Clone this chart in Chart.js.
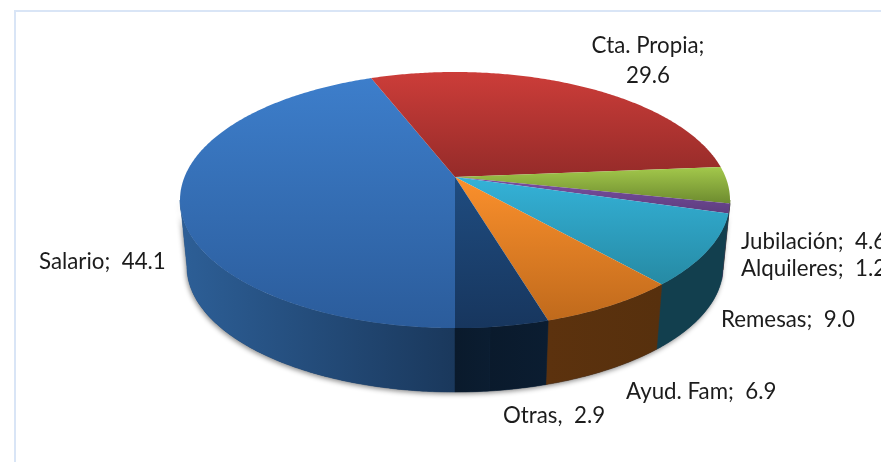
<!DOCTYPE html>
<html><head><meta charset="utf-8">
<style>html,body{margin:0;padding:0;background:#fff}canvas{display:block}</style>
<script src="https://cdn.jsdelivr.net/npm/chart.js@4"></script>
</head><body><canvas id="c" width="881" height="462"></canvas>
<script>
// Printed values, clockwise from the front of the pie. The printed figures add up to 98.3;
// the drawn navy wedge is wider than its "2.9" label, so the remaining 1.7 is an unlabelled slice of the same colour.
const categories = ['Salario','Cta. Propia','Jubilación','Alquileres','Remesas','Ayud. Fam','Otras',''];
const values = [44.1,29.6,4.6,1.2,9.0,6.9,2.9,1.7];
const labelLines = [['Salario;  44.1'],['Cta. Propia;','29.6'],['Jubilación;  4.6'],['Alquileres;  1.2'],['Remesas;  9.0'],['Ayud. Fam;  6.9'],['Otras,  2.9'],[]];
const labelAnchors = [[39,262,'left'],[648,46,'center'],[741,242,'left'],[741,269,'left'],[721,320,'left'],[626,392,'left'],[503,416,'left'],null];
const topColors = [['#3d7ecb','#2b5c9b'],['#cc3d39','#952b29'],['#a3c84b','#6d8b2f'],['#7c50a3','#5d3d7e'],['#34b2d8','#268aa4'],['#fb902c','#c06a1c'],['#1f4c80','#17365e'],['#1f4c80','#17365e']];
const wallColors = [['#2d5f97','#1a385c'],['#6e2020','#6e2020'],['#55701f','#55701f'],['#3f2a58','#3f2a58'],['#123f4e','#123f4e'],['#5c320e','#57300d'],['#0a1a2c','#0b1d31'],['#0a1a2c','#0b1d31']];

// Perspective of the pie disc
const CX=455, TOP={cy:177,R:270.5,b:123.9}, BOT={cy:244,R:263.7,b:121.4}, K=0.18;
const SIL=Math.acos(-K); // angle at which the rim turns from front to back
function pt(th,f,r=1){const u=r*Math.sin(th),v=-r*Math.cos(th),w=1/(1-K*v);return [CX+f.R*u*w,f.cy+f.b*v*w];}
function arcPts(a,b,f){const n=Math.max(2,Math.ceil(Math.abs(b-a)/0.01)),o=[];for(let i=0;i<=n;i++)o.push(pt(a+(b-a)*i/n,f));return o;}
function tracePts(ctx,p){ctx.beginPath();p.forEach((q,i)=>i?ctx.lineTo(q[0],q[1]):ctx.moveTo(q[0],q[1]));ctx.closePath();}
function wallPts(a,b){return arcPts(a,b,TOP).concat(arcPts(a,b,BOT).reverse());}

const pie3d={id:'pie3d',
 beforeDraw(chart){const c=chart.ctx;c.save();c.fillStyle='#d9e5f6';c.fillRect(14,10,867,2);c.fillRect(14,10,2,452);c.restore();},
 beforeDatasetsDraw(chart){
  const ctx=chart.ctx,arcs=chart.getDatasetMeta(0).data;
  ctx.save();
  ctx.save();ctx.shadowColor='rgba(0,0,0,0.45)';ctx.shadowBlur=5;ctx.shadowOffsetX=-1;ctx.shadowOffsetY=2;ctx.fillStyle='#1a385c';
  tracePts(ctx,wallPts(SIL,2*Math.PI-SIL));ctx.fill();ctx.restore();
  // rim walls
  arcs.forEach((el,i)=>{
   const s=el.startAngle+Math.PI/2,e=el.endAngle+Math.PI/2;
   [0,2*Math.PI].forEach(sh=>{
    const a=Math.max(s,SIL+sh),b=Math.min(e,2*Math.PI-SIL+sh);
    if(b<=a)return;
    const p=wallPts(a,b),xs=p.map(q=>q[0]);
    const g=ctx.createLinearGradient(Math.min(...xs),0,Math.max(...xs),0);
    g.addColorStop(0,wallColors[i][0]);g.addColorStop(1,wallColors[i][1]);
    tracePts(ctx,p);ctx.fillStyle=g;ctx.strokeStyle=g;ctx.lineWidth=0.5;ctx.fill();ctx.stroke();
   });
  });
  // top face: slices of one colour share one gradient span and overlap, so no seam shows
  const spans={};
  const slicePts=arcs.map((el,i)=>{
   const same=arcs[i+1]&&topColors[i+1][0]===topColors[i][0];
   const end=same?arcs[i+1].endAngle:el.endAngle;
   return [[CX,TOP.cy]].concat(arcPts(el.startAngle+Math.PI/2,end+Math.PI/2,TOP));
  });
  slicePts.forEach((p,i)=>{const k=topColors[i][0],ys=p.map(q=>q[1]),sp=spans[k]||(spans[k]=[1e9,-1e9]);sp[0]=Math.min(sp[0],...ys);sp[1]=Math.max(sp[1],...ys);});
  slicePts.forEach((p,i)=>{
   const sp=spans[topColors[i][0]],g=ctx.createLinearGradient(0,sp[0],0,sp[1]);
   g.addColorStop(0,topColors[i][0]);g.addColorStop(1,topColors[i][1]);
   tracePts(ctx,p);ctx.fillStyle=g;ctx.fill();
  });
  ctx.restore();
  return false;
 },
 afterDraw(chart){
  const ctx=chart.ctx;ctx.save();ctx.fillStyle='#1c1c1c';ctx.font='22.3px Lato';ctx.textBaseline='middle';
  labelLines.forEach((lines,i)=>{const a=labelAnchors[i];if(!a)return;ctx.textAlign=a[2];lines.forEach((t,j)=>ctx.fillText(t,a[0],a[1]+j*30));});
  ctx.restore();
 }};

new Chart(document.getElementById('c'),{type:'pie',
 data:{labels:categories,datasets:[{data:values,backgroundColor:topColors.map(c=>c[0]),borderWidth:0}]},
 options:{responsive:false,animation:false,rotation:180,layout:{padding:20},
  plugins:{legend:{display:false},tooltip:{enabled:false}}},
 plugins:[pie3d]});
</script></body></html>
